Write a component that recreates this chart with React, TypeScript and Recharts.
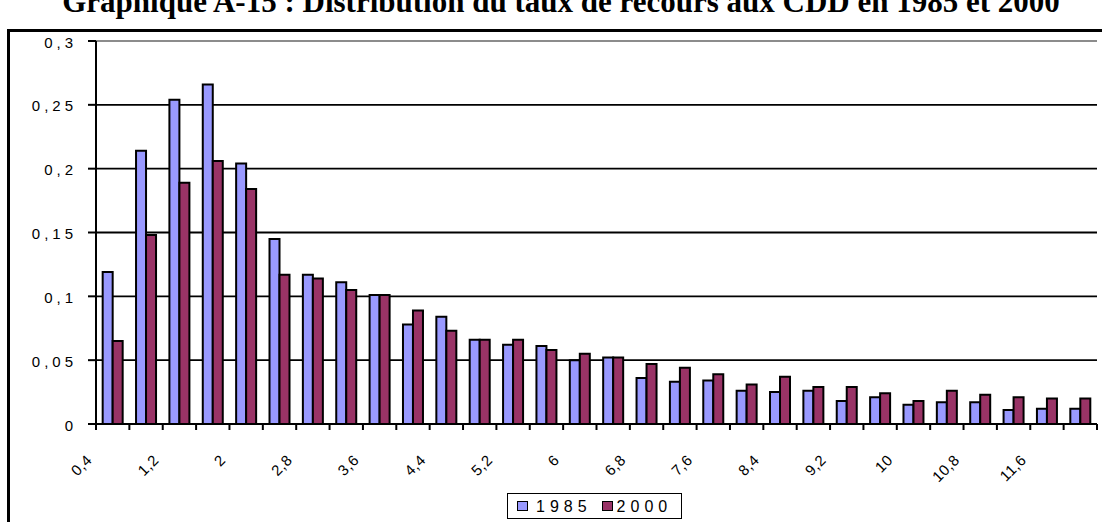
import React from 'react';
import { BarChart, Bar, XAxis, YAxis, CartesianGrid, ReferenceLine, Legend } from 'recharts';

const TITLE = 'Graphique A-15 : Distribution du taux de recours aux CDD en 1985 et 2000';

const CATEGORIES = ['0,4', '0,8', '1,2', '1,6', '2', '2,4', '2,8', '3,2', '3,6', '4', '4,4', '4,8', '5,2', '5,6', '6', '6,4', '6,8', '7,2', '7,6', '8', '8,4', '8,8', '9,2', '9,6', '10', '10,4', '10,8', '11,2', '11,6', '12'];

const SERIES_1985 = [0.119, 0.214, 0.254, 0.266, 0.204, 0.145, 0.117, 0.111, 0.101, 0.078, 0.084, 0.066, 0.062, 0.061, 0.050, 0.052, 0.036, 0.033, 0.034, 0.026, 0.025, 0.026, 0.018, 0.021, 0.015, 0.017, 0.017, 0.011, 0.012, 0.012];

const SERIES_2000 = [0.065, 0.148, 0.189, 0.206, 0.184, 0.117, 0.114, 0.105, 0.101, 0.089, 0.073, 0.066, 0.066, 0.058, 0.055, 0.052, 0.047, 0.044, 0.039, 0.031, 0.037, 0.029, 0.029, 0.024, 0.018, 0.026, 0.023, 0.021, 0.020, 0.020];

const Y_TICKS = [0, 0.05, 0.1, 0.15, 0.2, 0.25, 0.3];
const Y_LABELS = ['0', '0,05', '0,1', '0,15', '0,2', '0,25', '0,3'];

const SERIES_NAMES = ['1985', '2000'];
const COLORS = ['#9999FF', '#993366'];

const data = CATEGORIES.map((c, i) => ({ cat: c, y1985: SERIES_1985[i], y2000: SERIES_2000[i] }));

const SANS = '"Liberation Sans", Arial, sans-serif';

const XTick = (props: any) => {
  const { x, y, payload, index, width } = props;
  const n = CATEGORIES.length;
  const band = width / n;
  const left = x - band / 2;
  return (
    <g>
      <line x1={left} y1={y} x2={left} y2={y + 6} stroke="#000" strokeWidth={2} />
      {index === n - 1 && <line x1={x + band / 2} y1={y} x2={x + band / 2} y2={y + 6} stroke="#000" strokeWidth={2} />}
      {index % 2 === 0 && (
        <text
          transform={`translate(${left - 3},${y + 37}) rotate(-45)`}
          textAnchor="end"
          fontFamily={SANS}
          fontSize={15}
          letterSpacing={0.5}
          fill="#000"
        >
          {payload.value}
        </text>
      )}
    </g>
  );
};

const YTick = (props: any) => {
  const { x, y, payload } = props;
  const idx = Y_TICKS.findIndex((t) => Math.abs(t - payload.value) < 1e-9);
  return (
    <text x={x - 11} y={y + 6.5} textAnchor="end" fontFamily={SANS} fontSize={15} letterSpacing={4} fill="#000">
      {idx >= 0 ? Y_LABELS[idx] : ''}
    </text>
  );
};

const LegendContent = () => (
  <div
    style={{
      boxSizing: 'border-box',
      width: 175,
      height: 26,
      border: '1.5px solid #000',
      display: 'flex',
      alignItems: 'center',
      paddingLeft: 9,
      paddingTop: 2,
      fontFamily: SANS,
      fontSize: 16,
      letterSpacing: 5,
      color: '#000',
      background: '#fff',
    }}
  >
    {SERIES_NAMES.map((name, i) => (
      <div key={name} style={{ display: 'flex', alignItems: 'center', marginLeft: i === 0 ? 0 : 10 }}>
        <span
          style={{
            display: 'inline-block',
            boxSizing: 'border-box',
            width: 11,
            height: 10,
            background: COLORS[i],
            border: '1.5px solid #000',
            marginRight: i === 0 ? 8 : 4,
            marginTop: -3,
          }}
        />
        <span>{name}</span>
      </div>
    ))}
  </div>
);

export default function App() {
  return (
    <div style={{ position: 'absolute', left: 0, top: 0, width: 1102, height: 522, overflow: 'hidden', background: '#fff' }}>
      <div
        style={{
          position: 'absolute',
          left: 20,
          top: -14,
          width: 1082,
          textAlign: 'center',
          fontFamily: '"Liberation Serif", "Times New Roman", serif',
          fontWeight: 'bold',
          fontSize: 31,
          lineHeight: '31px',
          whiteSpace: 'nowrap',
          color: '#000',
        }}
      >
        {TITLE}
      </div>
      <div
        style={{
          position: 'absolute',
          left: 7,
          top: 29,
          width: 1200,
          height: 600,
          border: '3px solid #000',
        }}
      />
      <div style={{ position: 'absolute', left: 0, top: 0 }}>
        <BarChart
          width={1102}
          height={522}
          data={data}
          margin={{ top: 41, right: 5, left: 0, bottom: 68 }}
          barCategoryGap="20%"
          barGap={0}
        >
          <CartesianGrid vertical={false} stroke="#000" strokeWidth={1.8} />
          <XAxis
            dataKey="cat"
            interval={0}
            tickLine={false}
            tickSize={0}
            tickMargin={0}
            height={30}
            axisLine={{ stroke: '#000', strokeWidth: 2 }}
            tick={<XTick />}
          />
          <XAxis xAxisId="n" type="number" domain={[0, 30]} hide />
          <YAxis
            domain={[0, 0.3]}
            ticks={Y_TICKS}
            interval={0}
            width={96}
            tickSize={8}
            tickMargin={0}
            tickLine={{ stroke: '#000', strokeWidth: 2 }}
            axisLine={{ stroke: '#000', strokeWidth: 2 }}
            tick={<YTick />}
          />
          <ReferenceLine y={0.3} stroke="#8c8c8c" strokeWidth={2} />
          <ReferenceLine x={30} xAxisId="n" stroke="#8c8c8c" strokeWidth={2} />
          <Bar dataKey="y1985" name={SERIES_NAMES[0]} fill={COLORS[0]} stroke="#000" strokeWidth={2} isAnimationActive={false} />
          <Bar dataKey="y2000" name={SERIES_NAMES[1]} fill={COLORS[1]} stroke="#000" strokeWidth={2} isAnimationActive={false} />
          <Legend
            layout="horizontal"
            align="center"
            verticalAlign="middle"
            content={<LegendContent />}
            wrapperStyle={{ left: 507, top: 493, width: 175, height: 26, bottom: 'auto', right: 'auto' }}
          />
        </BarChart>
      </div>
    </div>
  );
}
